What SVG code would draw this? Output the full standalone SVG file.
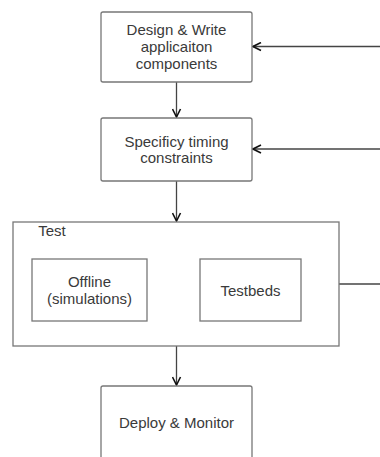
<svg xmlns="http://www.w3.org/2000/svg" width="380" height="457" viewBox="0 0 380 457">
<defs>
<marker id="arr" viewBox="0 0 10 10" refX="9" refY="5" markerWidth="10" markerHeight="10" markerUnits="userSpaceOnUse" orient="auto">
<path d="M1,1 L9,5 L1,9" fill="none" stroke="#111" stroke-width="1.6"/>
</marker>
<style>
.box{fill:#fff;stroke:#777;stroke-width:1.3}
.t{font-family:"Liberation Sans",Arial,sans-serif;font-size:15px;fill:#3a3a3a;text-anchor:middle}
.c{fill:none;stroke:#444;stroke-width:1.3}
</style>
</defs>
<rect width="380" height="457" fill="#fff"/>
<g id="connectors">
<path class="c" d="M176.5,82 V117" marker-end="url(#arr)"/>
<path class="c" d="M176.5,181 V221" marker-end="url(#arr)"/>
<path class="c" d="M176.5,346 V385" marker-end="url(#arr)"/>
<path class="c" d="M380,46.5 H253" marker-end="url(#arr)"/>
<path class="c" d="M380,149 H253" marker-end="url(#arr)"/>
<path class="c" d="M339,284 H380"/>
</g>
<g id="design">
<rect class="box" x="101" y="12" width="151" height="70" rx="2"/>
<text class="t" x="176.5" y="35">Design &amp; Write</text>
<text class="t" x="176.5" y="52">applicaiton</text>
<text class="t" x="176.5" y="69">components</text>
</g>
<g id="timing">
<rect class="box" x="101" y="118" width="151" height="63" rx="2"/>
<text class="t" x="176.5" y="146.5">Specificy timing</text>
<text class="t" x="176.5" y="163">constraints</text>
</g>
<g id="test">
<rect class="box" x="13" y="222" width="326" height="124"/>
<text class="t" x="52" y="236">Test</text>
</g>
<g id="offline">
<rect class="box" x="32" y="259" width="115" height="62"/>
<text class="t" x="89.5" y="287">Offline</text>
<text class="t" x="89.5" y="304">(simulations)</text>
</g>
<g id="testbeds">
<rect class="box" x="200" y="259" width="101" height="62"/>
<text class="t" x="250.5" y="296">Testbeds</text>
</g>
<g id="deploy">
<rect class="box" x="101" y="386" width="151" height="90" rx="2"/>
<text class="t" x="176.5" y="428">Deploy &amp; Monitor</text>
</g>
</svg>
